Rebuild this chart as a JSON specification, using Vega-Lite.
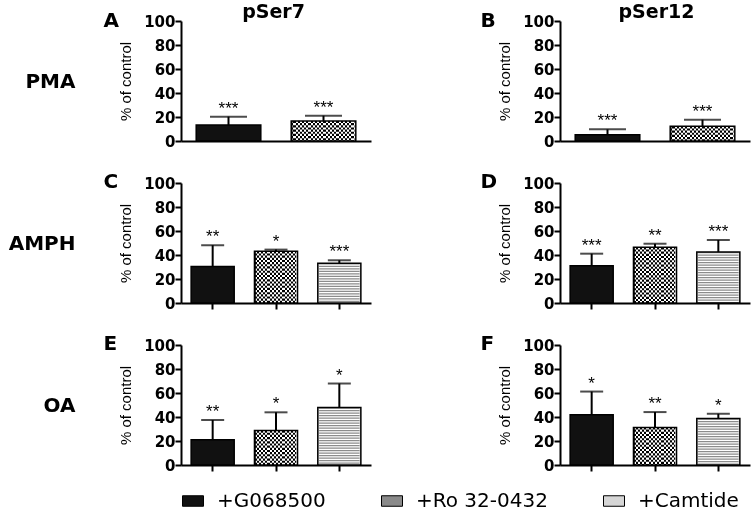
{
  "$schema": "https://vega.github.io/schema/vega-lite/v6.json",
  "autosize": "none",
  "padding": {"left": 181, "top": 21, "right": 574, "bottom": 490},
  "background": "white",
  "data": {"values": [
    {"panel": "A", "treatment": "+G068500", "mean": 13.3, "upper": 20.3, "sig": "***"},
    {"panel": "A", "treatment": "+Ro 32-0432", "mean": 16.7, "upper": 21.1, "sig": "***"},
    {"panel": "B", "treatment": "+G068500", "mean": 5.3, "upper": 9.7, "sig": "***"},
    {"panel": "B", "treatment": "+Ro 32-0432", "mean": 12.3, "upper": 17.8, "sig": "***"},
    {"panel": "C", "treatment": "+G068500", "mean": 30.5, "upper": 48.2, "sig": "**"},
    {"panel": "C", "treatment": "+Ro 32-0432", "mean": 43.1, "upper": 44.5, "sig": "*"},
    {"panel": "C", "treatment": "+Camtide", "mean": 33.1, "upper": 35.6, "sig": "***"},
    {"panel": "D", "treatment": "+G068500", "mean": 31.1, "upper": 41.1, "sig": "***"},
    {"panel": "D", "treatment": "+Ro 32-0432", "mean": 46.4, "upper": 49.4, "sig": "**"},
    {"panel": "D", "treatment": "+Camtide", "mean": 42.5, "upper": 52.5, "sig": "***"},
    {"panel": "E", "treatment": "+G068500", "mean": 21.1, "upper": 37.5, "sig": "**"},
    {"panel": "E", "treatment": "+Ro 32-0432", "mean": 28.7, "upper": 43.9, "sig": "*"},
    {"panel": "E", "treatment": "+Camtide", "mean": 47.9, "upper": 67.9, "sig": "*"},
    {"panel": "F", "treatment": "+G068500", "mean": 41.9, "upper": 61.2, "sig": "*"},
    {"panel": "F", "treatment": "+Ro 32-0432", "mean": 31.3, "upper": 44.1, "sig": "**"},
    {"panel": "F", "treatment": "+Camtide", "mean": 38.8, "upper": 42.7, "sig": "*"}
  ]},
  "columns": 2,
  "spacing": {"row": 42, "column": 189},
  "bounds": "flush",
  "concat": [
    {
      "width": 190, "height": 120,
      "transform": [{"filter": "datum.panel === 'A'"}],
      "resolve": {"axis": {"x": "independent", "y": "independent"}},
      "layer": [
        {"mark": {"type": "bar"},
         "encoding": {
           "x": {"field": "treatment", "type": "nominal", "scale": {"domain": ["+G068500", "+Ro 32-0432"], "paddingInner": 0.32, "paddingOuter": 0.16},
                 "axis": {"title": null, "labels": false, "ticks": false, "grid": false, "domainColor": "#000", "domainWidth": 2}},
           "y": {"field": "mean", "type": "quantitative", "scale": {"domain": [0, 100], "nice": false},
                 "axis": {"title": "% of control", "values": [0, 20, 40, 60, 80, 100], "grid": false, "domainColor": "#000", "domainWidth": 2, "tickColor": "#000", "tickWidth": 2, "tickSize": 6, "labelFont": "DejaVu Sans", "labelFontWeight": "bold", "labelFontSize": 15, "labelColor": "#000", "labelPadding": 0, "titleFont": "Liberation Sans", "titleFontSize": 15, "titleFontWeight": "normal", "titleColor": "#000", "titleX": -56, "titleY": 60, "titleAngle": 270, "titleAlign": "center", "titleBaseline": "middle"}},
           "fill": {"field": "treatment", "type": "nominal", "scale": {"domain": ["+G068500", "+Ro 32-0432", "+Camtide"], "range": ["#111111", "#8a8a8a", "#d6d6d6"]},
                    "legend": {"title": null, "orient": "none", "legendX": 1, "legendY": 469, "direction": "horizontal", "symbolType": "M-1,-0.5H1V0.5H-1Z", "symbolSize": 441, "symbolStrokeColor": "#000", "symbolStrokeWidth": 1, "symbolOpacity": 1, "labelFont": "DejaVu Sans", "labelFontSize": 20, "labelColor": "#000", "labelOffset": 13, "columnPadding": 53, "padding": 0, "labelLimit": 300}}
         }},
        {"transform": [{"filter": "datum.treatment === '+Ro 32-0432'"}],
         "mark": {"type": "bar", "fill": {"gradient": "linear", "x1": 0, "y1": 0, "x2": 1, "y2": 0, "stops": [
           {"offset": 0, "color": "#000"}, {"offset": 0.0333, "color": "#000"}, {"offset": 0.0333, "color": "#fff"}, {"offset": 0.0667, "color": "#fff"},
           {"offset": 0.0667, "color": "#000"}, {"offset": 0.1, "color": "#000"}, {"offset": 0.1, "color": "#fff"}, {"offset": 0.1333, "color": "#fff"},
           {"offset": 0.1333, "color": "#000"}, {"offset": 0.1667, "color": "#000"}, {"offset": 0.1667, "color": "#fff"}, {"offset": 0.2, "color": "#fff"},
           {"offset": 0.2, "color": "#000"}, {"offset": 0.2333, "color": "#000"}, {"offset": 0.2333, "color": "#fff"}, {"offset": 0.2667, "color": "#fff"},
           {"offset": 0.2667, "color": "#000"}, {"offset": 0.3, "color": "#000"}, {"offset": 0.3, "color": "#fff"}, {"offset": 0.3333, "color": "#fff"},
           {"offset": 0.3333, "color": "#000"}, {"offset": 0.3667, "color": "#000"}, {"offset": 0.3667, "color": "#fff"}, {"offset": 0.4, "color": "#fff"},
           {"offset": 0.4, "color": "#000"}, {"offset": 0.4333, "color": "#000"}, {"offset": 0.4333, "color": "#fff"}, {"offset": 0.4667, "color": "#fff"},
           {"offset": 0.4667, "color": "#000"}, {"offset": 0.5, "color": "#000"}, {"offset": 0.5, "color": "#fff"}, {"offset": 0.5333, "color": "#fff"},
           {"offset": 0.5333, "color": "#000"}, {"offset": 0.5667, "color": "#000"}, {"offset": 0.5667, "color": "#fff"}, {"offset": 0.6, "color": "#fff"},
           {"offset": 0.6, "color": "#000"}, {"offset": 0.6333, "color": "#000"}, {"offset": 0.6333, "color": "#fff"}, {"offset": 0.6667, "color": "#fff"},
           {"offset": 0.6667, "color": "#000"}, {"offset": 0.7, "color": "#000"}, {"offset": 0.7, "color": "#fff"}, {"offset": 0.7333, "color": "#fff"},
           {"offset": 0.7333, "color": "#000"}, {"offset": 0.7667, "color": "#000"}, {"offset": 0.7667, "color": "#fff"}, {"offset": 0.8, "color": "#fff"},
           {"offset": 0.8, "color": "#000"}, {"offset": 0.8333, "color": "#000"}, {"offset": 0.8333, "color": "#fff"}, {"offset": 0.8667, "color": "#fff"},
           {"offset": 0.8667, "color": "#000"}, {"offset": 0.9, "color": "#000"}, {"offset": 0.9, "color": "#fff"}, {"offset": 0.9333, "color": "#fff"},
           {"offset": 0.9333, "color": "#000"}, {"offset": 0.9667, "color": "#000"}, {"offset": 0.9667, "color": "#fff"}, {"offset": 1, "color": "#fff"}]}},
         "encoding": {"x": {"field": "treatment", "type": "nominal", "axis": null}, "y": {"field": "mean", "type": "quantitative", "axis": null}}},
        {"transform": [{"filter": "datum.treatment === '+Ro 32-0432'"}],
         "mark": {"type": "rule", "stroke": "#fff", "strokeWidth": 62, "strokeDash": [2.15, 2.15], "blend": "difference"},
         "encoding": {"x": {"field": "treatment", "type": "nominal", "axis": null}, "y": {"field": "mean", "type": "quantitative", "axis": null}, "y2": {"datum": 0}}},
        {"mark": {"type": "bar", "fill": "transparent", "stroke": "#000", "strokeWidth": 1.5},
         "encoding": {"x": {"field": "treatment", "type": "nominal", "axis": null}, "y": {"field": "mean", "type": "quantitative", "axis": null}}},
        {"mark": {"type": "rule", "color": "#000", "strokeWidth": 2},
         "encoding": {"x": {"field": "treatment", "type": "nominal", "axis": null},
                      "y": {"field": "mean", "type": "quantitative", "axis": {"orient": "left", "title": "A", "labels": false, "ticks": false, "domain": false, "grid": false, "titleX": -78, "titleY": 5, "titleAngle": 0, "titleAlign": "left", "titleBaseline": "alphabetic", "titleFont": "DejaVu Sans", "titleFontSize": 20, "titleFontWeight": "bold", "titleColor": "#000"}},
                      "y2": {"field": "upper"}}},
        {"mark": {"type": "tick", "color": "#000", "size": 37, "thickness": 2},
         "encoding": {"x": {"field": "treatment", "type": "nominal", "axis": null},
                      "y": {"field": "upper", "type": "quantitative", "axis": {"orient": "left", "title": "PMA", "labels": false, "ticks": false, "domain": false, "grid": false, "titleX": -106, "titleY": 66, "titleAngle": 0, "titleAlign": "right", "titleBaseline": "alphabetic", "titleFont": "DejaVu Sans", "titleFontSize": 20, "titleFontWeight": "bold", "titleColor": "#000"}}}},
        {"mark": {"type": "text", "font": "Liberation Sans", "fontSize": 17, "dy": -3, "baseline": "alphabetic", "color": "#000"},
         "encoding": {"x": {"field": "treatment", "type": "nominal", "axis": {"orient": "top", "title": "pSer7", "labels": false, "ticks": false, "domain": false, "grid": false, "titleX": 92, "titleY": -4, "titleAlign": "center", "titleBaseline": "alphabetic", "titleFont": "DejaVu Sans", "titleFontSize": 19, "titleFontWeight": "bold", "titleColor": "#000"}},
                      "y": {"field": "upper", "type": "quantitative", "axis": null}, "text": {"field": "sig"}}}
      ]
    },
    {
      "width": 190, "height": 120,
      "transform": [{"filter": "datum.panel === 'B'"}],
      "resolve": {"axis": {"x": "independent", "y": "independent"}},
      "layer": [
        {"mark": {"type": "bar"},
         "encoding": {
           "x": {"field": "treatment", "type": "nominal", "scale": {"domain": ["+G068500", "+Ro 32-0432"], "paddingInner": 0.32, "paddingOuter": 0.16},
                 "axis": {"title": null, "labels": false, "ticks": false, "grid": false, "domainColor": "#000", "domainWidth": 2}},
           "y": {"field": "mean", "type": "quantitative", "scale": {"domain": [0, 100], "nice": false},
                 "axis": {"title": "% of control", "values": [0, 20, 40, 60, 80, 100], "grid": false, "domainColor": "#000", "domainWidth": 2, "tickColor": "#000", "tickWidth": 2, "tickSize": 6, "labelFont": "DejaVu Sans", "labelFontWeight": "bold", "labelFontSize": 15, "labelColor": "#000", "labelPadding": 0, "titleFont": "Liberation Sans", "titleFontSize": 15, "titleFontWeight": "normal", "titleColor": "#000", "titleX": -56, "titleY": 60, "titleAngle": 270, "titleAlign": "center", "titleBaseline": "middle"}},
           "fill": {"field": "treatment", "type": "nominal", "scale": {"domain": ["+G068500", "+Ro 32-0432", "+Camtide"], "range": ["#111111", "#8a8a8a", "#d6d6d6"]},
                    "legend": {"title": null, "orient": "none", "legendX": 1, "legendY": 469, "direction": "horizontal", "symbolType": "M-1,-0.5H1V0.5H-1Z", "symbolSize": 441, "symbolStrokeColor": "#000", "symbolStrokeWidth": 1, "symbolOpacity": 1, "labelFont": "DejaVu Sans", "labelFontSize": 20, "labelColor": "#000", "labelOffset": 13, "columnPadding": 53, "padding": 0, "labelLimit": 300}}
         }},
        {"transform": [{"filter": "datum.treatment === '+Ro 32-0432'"}],
         "mark": {"type": "bar", "fill": {"gradient": "linear", "x1": 0, "y1": 0, "x2": 1, "y2": 0, "stops": [
           {"offset": 0, "color": "#000"}, {"offset": 0.0333, "color": "#000"}, {"offset": 0.0333, "color": "#fff"}, {"offset": 0.0667, "color": "#fff"},
           {"offset": 0.0667, "color": "#000"}, {"offset": 0.1, "color": "#000"}, {"offset": 0.1, "color": "#fff"}, {"offset": 0.1333, "color": "#fff"},
           {"offset": 0.1333, "color": "#000"}, {"offset": 0.1667, "color": "#000"}, {"offset": 0.1667, "color": "#fff"}, {"offset": 0.2, "color": "#fff"},
           {"offset": 0.2, "color": "#000"}, {"offset": 0.2333, "color": "#000"}, {"offset": 0.2333, "color": "#fff"}, {"offset": 0.2667, "color": "#fff"},
           {"offset": 0.2667, "color": "#000"}, {"offset": 0.3, "color": "#000"}, {"offset": 0.3, "color": "#fff"}, {"offset": 0.3333, "color": "#fff"},
           {"offset": 0.3333, "color": "#000"}, {"offset": 0.3667, "color": "#000"}, {"offset": 0.3667, "color": "#fff"}, {"offset": 0.4, "color": "#fff"},
           {"offset": 0.4, "color": "#000"}, {"offset": 0.4333, "color": "#000"}, {"offset": 0.4333, "color": "#fff"}, {"offset": 0.4667, "color": "#fff"},
           {"offset": 0.4667, "color": "#000"}, {"offset": 0.5, "color": "#000"}, {"offset": 0.5, "color": "#fff"}, {"offset": 0.5333, "color": "#fff"},
           {"offset": 0.5333, "color": "#000"}, {"offset": 0.5667, "color": "#000"}, {"offset": 0.5667, "color": "#fff"}, {"offset": 0.6, "color": "#fff"},
           {"offset": 0.6, "color": "#000"}, {"offset": 0.6333, "color": "#000"}, {"offset": 0.6333, "color": "#fff"}, {"offset": 0.6667, "color": "#fff"},
           {"offset": 0.6667, "color": "#000"}, {"offset": 0.7, "color": "#000"}, {"offset": 0.7, "color": "#fff"}, {"offset": 0.7333, "color": "#fff"},
           {"offset": 0.7333, "color": "#000"}, {"offset": 0.7667, "color": "#000"}, {"offset": 0.7667, "color": "#fff"}, {"offset": 0.8, "color": "#fff"},
           {"offset": 0.8, "color": "#000"}, {"offset": 0.8333, "color": "#000"}, {"offset": 0.8333, "color": "#fff"}, {"offset": 0.8667, "color": "#fff"},
           {"offset": 0.8667, "color": "#000"}, {"offset": 0.9, "color": "#000"}, {"offset": 0.9, "color": "#fff"}, {"offset": 0.9333, "color": "#fff"},
           {"offset": 0.9333, "color": "#000"}, {"offset": 0.9667, "color": "#000"}, {"offset": 0.9667, "color": "#fff"}, {"offset": 1, "color": "#fff"}]}},
         "encoding": {"x": {"field": "treatment", "type": "nominal", "axis": null}, "y": {"field": "mean", "type": "quantitative", "axis": null}}},
        {"transform": [{"filter": "datum.treatment === '+Ro 32-0432'"}],
         "mark": {"type": "rule", "stroke": "#fff", "strokeWidth": 62, "strokeDash": [2.15, 2.15], "blend": "difference"},
         "encoding": {"x": {"field": "treatment", "type": "nominal", "axis": null}, "y": {"field": "mean", "type": "quantitative", "axis": null}, "y2": {"datum": 0}}},
        {"mark": {"type": "bar", "fill": "transparent", "stroke": "#000", "strokeWidth": 1.5},
         "encoding": {"x": {"field": "treatment", "type": "nominal", "axis": null}, "y": {"field": "mean", "type": "quantitative", "axis": null}}},
        {"mark": {"type": "rule", "color": "#000", "strokeWidth": 2},
         "encoding": {"x": {"field": "treatment", "type": "nominal", "axis": null},
                      "y": {"field": "mean", "type": "quantitative", "axis": {"orient": "left", "title": "B", "labels": false, "ticks": false, "domain": false, "grid": false, "titleX": -80, "titleY": 5, "titleAngle": 0, "titleAlign": "left", "titleBaseline": "alphabetic", "titleFont": "DejaVu Sans", "titleFontSize": 20, "titleFontWeight": "bold", "titleColor": "#000"}},
                      "y2": {"field": "upper"}}},
        {"mark": {"type": "tick", "color": "#000", "size": 37, "thickness": 2},
         "encoding": {"x": {"field": "treatment", "type": "nominal", "axis": null},
                      "y": {"field": "upper", "type": "quantitative", "axis": null}}},
        {"mark": {"type": "text", "font": "Liberation Sans", "fontSize": 17, "dy": -3, "baseline": "alphabetic", "color": "#000"},
         "encoding": {"x": {"field": "treatment", "type": "nominal", "axis": {"orient": "top", "title": "pSer12", "labels": false, "ticks": false, "domain": false, "grid": false, "titleX": 96, "titleY": -4, "titleAlign": "center", "titleBaseline": "alphabetic", "titleFont": "DejaVu Sans", "titleFontSize": 19, "titleFontWeight": "bold", "titleColor": "#000"}},
                      "y": {"field": "upper", "type": "quantitative", "axis": null}, "text": {"field": "sig"}}}
      ]
    },
    {
      "width": 190, "height": 120,
      "transform": [{"filter": "datum.panel === 'C'"}],
      "resolve": {"axis": {"x": "independent", "y": "independent"}},
      "layer": [
        {"mark": {"type": "bar"},
         "encoding": {
           "x": {"field": "treatment", "type": "nominal", "scale": {"domain": ["+G068500", "+Ro 32-0432", "+Camtide"], "paddingInner": 0.32, "paddingOuter": 0.16},
                 "axis": {"title": null, "labels": false, "ticks": true, "tickSize": 6, "tickWidth": 2, "tickColor": "#000", "grid": false, "domainColor": "#000", "domainWidth": 2}},
           "y": {"field": "mean", "type": "quantitative", "scale": {"domain": [0, 100], "nice": false},
                 "axis": {"title": "% of control", "values": [0, 20, 40, 60, 80, 100], "grid": false, "domainColor": "#000", "domainWidth": 2, "tickColor": "#000", "tickWidth": 2, "tickSize": 6, "labelFont": "DejaVu Sans", "labelFontWeight": "bold", "labelFontSize": 15, "labelColor": "#000", "labelPadding": 0, "titleFont": "Liberation Sans", "titleFontSize": 15, "titleFontWeight": "normal", "titleColor": "#000", "titleX": -56, "titleY": 60, "titleAngle": 270, "titleAlign": "center", "titleBaseline": "middle"}},
           "fill": {"field": "treatment", "type": "nominal", "scale": {"domain": ["+G068500", "+Ro 32-0432", "+Camtide"], "range": ["#111111", "#8a8a8a", "#d6d6d6"]},
                    "legend": {"title": null, "orient": "none", "legendX": 1, "legendY": 469, "direction": "horizontal", "symbolType": "M-1,-0.5H1V0.5H-1Z", "symbolSize": 441, "symbolStrokeColor": "#000", "symbolStrokeWidth": 1, "symbolOpacity": 1, "labelFont": "DejaVu Sans", "labelFontSize": 20, "labelColor": "#000", "labelOffset": 13, "columnPadding": 53, "padding": 0, "labelLimit": 300}}
         }},
        {"transform": [{"filter": "datum.treatment === '+Ro 32-0432'"}],
         "mark": {"type": "bar", "fill": {"gradient": "linear", "x1": 0, "y1": 0, "x2": 1, "y2": 0, "stops": [
           {"offset": 0, "color": "#000"}, {"offset": 0.05, "color": "#000"}, {"offset": 0.05, "color": "#fff"}, {"offset": 0.1, "color": "#fff"},
           {"offset": 0.1, "color": "#000"}, {"offset": 0.15, "color": "#000"}, {"offset": 0.15, "color": "#fff"}, {"offset": 0.2, "color": "#fff"},
           {"offset": 0.2, "color": "#000"}, {"offset": 0.25, "color": "#000"}, {"offset": 0.25, "color": "#fff"}, {"offset": 0.3, "color": "#fff"},
           {"offset": 0.3, "color": "#000"}, {"offset": 0.35, "color": "#000"}, {"offset": 0.35, "color": "#fff"}, {"offset": 0.4, "color": "#fff"},
           {"offset": 0.4, "color": "#000"}, {"offset": 0.45, "color": "#000"}, {"offset": 0.45, "color": "#fff"}, {"offset": 0.5, "color": "#fff"},
           {"offset": 0.5, "color": "#000"}, {"offset": 0.55, "color": "#000"}, {"offset": 0.55, "color": "#fff"}, {"offset": 0.6, "color": "#fff"},
           {"offset": 0.6, "color": "#000"}, {"offset": 0.65, "color": "#000"}, {"offset": 0.65, "color": "#fff"}, {"offset": 0.7, "color": "#fff"},
           {"offset": 0.7, "color": "#000"}, {"offset": 0.75, "color": "#000"}, {"offset": 0.75, "color": "#fff"}, {"offset": 0.8, "color": "#fff"},
           {"offset": 0.8, "color": "#000"}, {"offset": 0.85, "color": "#000"}, {"offset": 0.85, "color": "#fff"}, {"offset": 0.9, "color": "#fff"},
           {"offset": 0.9, "color": "#000"}, {"offset": 0.95, "color": "#000"}, {"offset": 0.95, "color": "#fff"}, {"offset": 1, "color": "#fff"}]}},
         "encoding": {"x": {"field": "treatment", "type": "nominal", "axis": null}, "y": {"field": "mean", "type": "quantitative", "axis": null}}},
        {"transform": [{"filter": "datum.treatment === '+Ro 32-0432'"}],
         "mark": {"type": "rule", "stroke": "#fff", "strokeWidth": 40.5, "strokeDash": [2.15, 2.15], "blend": "difference"},
         "encoding": {"x": {"field": "treatment", "type": "nominal", "axis": null}, "y": {"field": "mean", "type": "quantitative", "axis": null}, "y2": {"datum": 0}}},
        {"transform": [{"filter": "datum.treatment === '+Camtide'"}],
         "mark": {"type": "rule", "stroke": "#fff", "strokeWidth": 40.5},
         "encoding": {"x": {"field": "treatment", "type": "nominal", "axis": null}, "y": {"field": "mean", "type": "quantitative", "axis": null}, "y2": {"datum": 0}}},
        {"transform": [{"filter": "datum.treatment === '+Camtide'"}],
         "mark": {"type": "rule", "stroke": "#8c8c8c", "strokeWidth": 40.5, "strokeDash": [1.2, 1.3]},
         "encoding": {"x": {"field": "treatment", "type": "nominal", "axis": null}, "y": {"field": "mean", "type": "quantitative", "axis": null}, "y2": {"datum": 0}}},
        {"mark": {"type": "bar", "fill": "transparent", "stroke": "#000", "strokeWidth": 1.5},
         "encoding": {"x": {"field": "treatment", "type": "nominal", "axis": null}, "y": {"field": "mean", "type": "quantitative", "axis": null}}},
        {"mark": {"type": "rule", "color": "#000", "strokeWidth": 2},
         "encoding": {"x": {"field": "treatment", "type": "nominal", "axis": null},
                      "y": {"field": "mean", "type": "quantitative", "axis": {"orient": "left", "title": "C", "labels": false, "ticks": false, "domain": false, "grid": false, "titleX": -78, "titleY": 4, "titleAngle": 0, "titleAlign": "left", "titleBaseline": "alphabetic", "titleFont": "DejaVu Sans", "titleFontSize": 20, "titleFontWeight": "bold", "titleColor": "#000"}},
                      "y2": {"field": "upper"}}},
        {"mark": {"type": "tick", "color": "#000", "size": 23, "thickness": 2},
         "encoding": {"x": {"field": "treatment", "type": "nominal", "axis": null},
                      "y": {"field": "upper", "type": "quantitative", "axis": {"orient": "left", "title": "AMPH", "labels": false, "ticks": false, "domain": false, "grid": false, "titleX": -106, "titleY": 66, "titleAngle": 0, "titleAlign": "right", "titleBaseline": "alphabetic", "titleFont": "DejaVu Sans", "titleFontSize": 20, "titleFontWeight": "bold", "titleColor": "#000"}}}},
        {"mark": {"type": "text", "font": "Liberation Sans", "fontSize": 17, "dy": -3, "baseline": "alphabetic", "color": "#000"},
         "encoding": {"x": {"field": "treatment", "type": "nominal", "axis": null},
                      "y": {"field": "upper", "type": "quantitative", "axis": null}, "text": {"field": "sig"}}}
      ]
    },
    {
      "width": 190, "height": 120,
      "transform": [{"filter": "datum.panel === 'D'"}],
      "resolve": {"axis": {"x": "independent", "y": "independent"}},
      "layer": [
        {"mark": {"type": "bar"},
         "encoding": {
           "x": {"field": "treatment", "type": "nominal", "scale": {"domain": ["+G068500", "+Ro 32-0432", "+Camtide"], "paddingInner": 0.32, "paddingOuter": 0.16},
                 "axis": {"title": null, "labels": false, "ticks": true, "tickSize": 6, "tickWidth": 2, "tickColor": "#000", "grid": false, "domainColor": "#000", "domainWidth": 2}},
           "y": {"field": "mean", "type": "quantitative", "scale": {"domain": [0, 100], "nice": false},
                 "axis": {"title": "% of control", "values": [0, 20, 40, 60, 80, 100], "grid": false, "domainColor": "#000", "domainWidth": 2, "tickColor": "#000", "tickWidth": 2, "tickSize": 6, "labelFont": "DejaVu Sans", "labelFontWeight": "bold", "labelFontSize": 15, "labelColor": "#000", "labelPadding": 0, "titleFont": "Liberation Sans", "titleFontSize": 15, "titleFontWeight": "normal", "titleColor": "#000", "titleX": -56, "titleY": 60, "titleAngle": 270, "titleAlign": "center", "titleBaseline": "middle"}},
           "fill": {"field": "treatment", "type": "nominal", "scale": {"domain": ["+G068500", "+Ro 32-0432", "+Camtide"], "range": ["#111111", "#8a8a8a", "#d6d6d6"]},
                    "legend": {"title": null, "orient": "none", "legendX": 1, "legendY": 469, "direction": "horizontal", "symbolType": "M-1,-0.5H1V0.5H-1Z", "symbolSize": 441, "symbolStrokeColor": "#000", "symbolStrokeWidth": 1, "symbolOpacity": 1, "labelFont": "DejaVu Sans", "labelFontSize": 20, "labelColor": "#000", "labelOffset": 13, "columnPadding": 53, "padding": 0, "labelLimit": 300}}
         }},
        {"transform": [{"filter": "datum.treatment === '+Ro 32-0432'"}],
         "mark": {"type": "bar", "fill": {"gradient": "linear", "x1": 0, "y1": 0, "x2": 1, "y2": 0, "stops": [
           {"offset": 0, "color": "#000"}, {"offset": 0.05, "color": "#000"}, {"offset": 0.05, "color": "#fff"}, {"offset": 0.1, "color": "#fff"},
           {"offset": 0.1, "color": "#000"}, {"offset": 0.15, "color": "#000"}, {"offset": 0.15, "color": "#fff"}, {"offset": 0.2, "color": "#fff"},
           {"offset": 0.2, "color": "#000"}, {"offset": 0.25, "color": "#000"}, {"offset": 0.25, "color": "#fff"}, {"offset": 0.3, "color": "#fff"},
           {"offset": 0.3, "color": "#000"}, {"offset": 0.35, "color": "#000"}, {"offset": 0.35, "color": "#fff"}, {"offset": 0.4, "color": "#fff"},
           {"offset": 0.4, "color": "#000"}, {"offset": 0.45, "color": "#000"}, {"offset": 0.45, "color": "#fff"}, {"offset": 0.5, "color": "#fff"},
           {"offset": 0.5, "color": "#000"}, {"offset": 0.55, "color": "#000"}, {"offset": 0.55, "color": "#fff"}, {"offset": 0.6, "color": "#fff"},
           {"offset": 0.6, "color": "#000"}, {"offset": 0.65, "color": "#000"}, {"offset": 0.65, "color": "#fff"}, {"offset": 0.7, "color": "#fff"},
           {"offset": 0.7, "color": "#000"}, {"offset": 0.75, "color": "#000"}, {"offset": 0.75, "color": "#fff"}, {"offset": 0.8, "color": "#fff"},
           {"offset": 0.8, "color": "#000"}, {"offset": 0.85, "color": "#000"}, {"offset": 0.85, "color": "#fff"}, {"offset": 0.9, "color": "#fff"},
           {"offset": 0.9, "color": "#000"}, {"offset": 0.95, "color": "#000"}, {"offset": 0.95, "color": "#fff"}, {"offset": 1, "color": "#fff"}]}},
         "encoding": {"x": {"field": "treatment", "type": "nominal", "axis": null}, "y": {"field": "mean", "type": "quantitative", "axis": null}}},
        {"transform": [{"filter": "datum.treatment === '+Ro 32-0432'"}],
         "mark": {"type": "rule", "stroke": "#fff", "strokeWidth": 40.5, "strokeDash": [2.15, 2.15], "blend": "difference"},
         "encoding": {"x": {"field": "treatment", "type": "nominal", "axis": null}, "y": {"field": "mean", "type": "quantitative", "axis": null}, "y2": {"datum": 0}}},
        {"transform": [{"filter": "datum.treatment === '+Camtide'"}],
         "mark": {"type": "rule", "stroke": "#fff", "strokeWidth": 40.5},
         "encoding": {"x": {"field": "treatment", "type": "nominal", "axis": null}, "y": {"field": "mean", "type": "quantitative", "axis": null}, "y2": {"datum": 0}}},
        {"transform": [{"filter": "datum.treatment === '+Camtide'"}],
         "mark": {"type": "rule", "stroke": "#8c8c8c", "strokeWidth": 40.5, "strokeDash": [1.2, 1.3]},
         "encoding": {"x": {"field": "treatment", "type": "nominal", "axis": null}, "y": {"field": "mean", "type": "quantitative", "axis": null}, "y2": {"datum": 0}}},
        {"mark": {"type": "bar", "fill": "transparent", "stroke": "#000", "strokeWidth": 1.5},
         "encoding": {"x": {"field": "treatment", "type": "nominal", "axis": null}, "y": {"field": "mean", "type": "quantitative", "axis": null}}},
        {"mark": {"type": "rule", "color": "#000", "strokeWidth": 2},
         "encoding": {"x": {"field": "treatment", "type": "nominal", "axis": null},
                      "y": {"field": "mean", "type": "quantitative", "axis": {"orient": "left", "title": "D", "labels": false, "ticks": false, "domain": false, "grid": false, "titleX": -80, "titleY": 4, "titleAngle": 0, "titleAlign": "left", "titleBaseline": "alphabetic", "titleFont": "DejaVu Sans", "titleFontSize": 20, "titleFontWeight": "bold", "titleColor": "#000"}},
                      "y2": {"field": "upper"}}},
        {"mark": {"type": "tick", "color": "#000", "size": 23, "thickness": 2},
         "encoding": {"x": {"field": "treatment", "type": "nominal", "axis": null},
                      "y": {"field": "upper", "type": "quantitative", "axis": null}}},
        {"mark": {"type": "text", "font": "Liberation Sans", "fontSize": 17, "dy": -3, "baseline": "alphabetic", "color": "#000"},
         "encoding": {"x": {"field": "treatment", "type": "nominal", "axis": null},
                      "y": {"field": "upper", "type": "quantitative", "axis": null}, "text": {"field": "sig"}}}
      ]
    },
    {
      "width": 190, "height": 120,
      "transform": [{"filter": "datum.panel === 'E'"}],
      "resolve": {"axis": {"x": "independent", "y": "independent"}},
      "layer": [
        {"mark": {"type": "bar"},
         "encoding": {
           "x": {"field": "treatment", "type": "nominal", "scale": {"domain": ["+G068500", "+Ro 32-0432", "+Camtide"], "paddingInner": 0.32, "paddingOuter": 0.16},
                 "axis": {"title": null, "labels": false, "ticks": true, "tickSize": 6, "tickWidth": 2, "tickColor": "#000", "grid": false, "domainColor": "#000", "domainWidth": 2}},
           "y": {"field": "mean", "type": "quantitative", "scale": {"domain": [0, 100], "nice": false},
                 "axis": {"title": "% of control", "values": [0, 20, 40, 60, 80, 100], "grid": false, "domainColor": "#000", "domainWidth": 2, "tickColor": "#000", "tickWidth": 2, "tickSize": 6, "labelFont": "DejaVu Sans", "labelFontWeight": "bold", "labelFontSize": 15, "labelColor": "#000", "labelPadding": 0, "titleFont": "Liberation Sans", "titleFontSize": 15, "titleFontWeight": "normal", "titleColor": "#000", "titleX": -56, "titleY": 60, "titleAngle": 270, "titleAlign": "center", "titleBaseline": "middle"}},
           "fill": {"field": "treatment", "type": "nominal", "scale": {"domain": ["+G068500", "+Ro 32-0432", "+Camtide"], "range": ["#111111", "#8a8a8a", "#d6d6d6"]},
                    "legend": {"title": null, "orient": "none", "legendX": 1, "legendY": 469, "direction": "horizontal", "symbolType": "M-1,-0.5H1V0.5H-1Z", "symbolSize": 441, "symbolStrokeColor": "#000", "symbolStrokeWidth": 1, "symbolOpacity": 1, "labelFont": "DejaVu Sans", "labelFontSize": 20, "labelColor": "#000", "labelOffset": 13, "columnPadding": 53, "padding": 0, "labelLimit": 300}}
         }},
        {"transform": [{"filter": "datum.treatment === '+Ro 32-0432'"}],
         "mark": {"type": "bar", "fill": {"gradient": "linear", "x1": 0, "y1": 0, "x2": 1, "y2": 0, "stops": [
           {"offset": 0, "color": "#000"}, {"offset": 0.05, "color": "#000"}, {"offset": 0.05, "color": "#fff"}, {"offset": 0.1, "color": "#fff"},
           {"offset": 0.1, "color": "#000"}, {"offset": 0.15, "color": "#000"}, {"offset": 0.15, "color": "#fff"}, {"offset": 0.2, "color": "#fff"},
           {"offset": 0.2, "color": "#000"}, {"offset": 0.25, "color": "#000"}, {"offset": 0.25, "color": "#fff"}, {"offset": 0.3, "color": "#fff"},
           {"offset": 0.3, "color": "#000"}, {"offset": 0.35, "color": "#000"}, {"offset": 0.35, "color": "#fff"}, {"offset": 0.4, "color": "#fff"},
           {"offset": 0.4, "color": "#000"}, {"offset": 0.45, "color": "#000"}, {"offset": 0.45, "color": "#fff"}, {"offset": 0.5, "color": "#fff"},
           {"offset": 0.5, "color": "#000"}, {"offset": 0.55, "color": "#000"}, {"offset": 0.55, "color": "#fff"}, {"offset": 0.6, "color": "#fff"},
           {"offset": 0.6, "color": "#000"}, {"offset": 0.65, "color": "#000"}, {"offset": 0.65, "color": "#fff"}, {"offset": 0.7, "color": "#fff"},
           {"offset": 0.7, "color": "#000"}, {"offset": 0.75, "color": "#000"}, {"offset": 0.75, "color": "#fff"}, {"offset": 0.8, "color": "#fff"},
           {"offset": 0.8, "color": "#000"}, {"offset": 0.85, "color": "#000"}, {"offset": 0.85, "color": "#fff"}, {"offset": 0.9, "color": "#fff"},
           {"offset": 0.9, "color": "#000"}, {"offset": 0.95, "color": "#000"}, {"offset": 0.95, "color": "#fff"}, {"offset": 1, "color": "#fff"}]}},
         "encoding": {"x": {"field": "treatment", "type": "nominal", "axis": null}, "y": {"field": "mean", "type": "quantitative", "axis": null}}},
        {"transform": [{"filter": "datum.treatment === '+Ro 32-0432'"}],
         "mark": {"type": "rule", "stroke": "#fff", "strokeWidth": 40.5, "strokeDash": [2.15, 2.15], "blend": "difference"},
         "encoding": {"x": {"field": "treatment", "type": "nominal", "axis": null}, "y": {"field": "mean", "type": "quantitative", "axis": null}, "y2": {"datum": 0}}},
        {"transform": [{"filter": "datum.treatment === '+Camtide'"}],
         "mark": {"type": "rule", "stroke": "#fff", "strokeWidth": 40.5},
         "encoding": {"x": {"field": "treatment", "type": "nominal", "axis": null}, "y": {"field": "mean", "type": "quantitative", "axis": null}, "y2": {"datum": 0}}},
        {"transform": [{"filter": "datum.treatment === '+Camtide'"}],
         "mark": {"type": "rule", "stroke": "#8c8c8c", "strokeWidth": 40.5, "strokeDash": [1.2, 1.3]},
         "encoding": {"x": {"field": "treatment", "type": "nominal", "axis": null}, "y": {"field": "mean", "type": "quantitative", "axis": null}, "y2": {"datum": 0}}},
        {"mark": {"type": "bar", "fill": "transparent", "stroke": "#000", "strokeWidth": 1.5},
         "encoding": {"x": {"field": "treatment", "type": "nominal", "axis": null}, "y": {"field": "mean", "type": "quantitative", "axis": null}}},
        {"mark": {"type": "rule", "color": "#000", "strokeWidth": 2},
         "encoding": {"x": {"field": "treatment", "type": "nominal", "axis": null},
                      "y": {"field": "mean", "type": "quantitative", "axis": {"orient": "left", "title": "E", "labels": false, "ticks": false, "domain": false, "grid": false, "titleX": -78, "titleY": 4, "titleAngle": 0, "titleAlign": "left", "titleBaseline": "alphabetic", "titleFont": "DejaVu Sans", "titleFontSize": 20, "titleFontWeight": "bold", "titleColor": "#000"}},
                      "y2": {"field": "upper"}}},
        {"mark": {"type": "tick", "color": "#000", "size": 23, "thickness": 2},
         "encoding": {"x": {"field": "treatment", "type": "nominal", "axis": null},
                      "y": {"field": "upper", "type": "quantitative", "axis": {"orient": "left", "title": "OA", "labels": false, "ticks": false, "domain": false, "grid": false, "titleX": -106, "titleY": 66, "titleAngle": 0, "titleAlign": "right", "titleBaseline": "alphabetic", "titleFont": "DejaVu Sans", "titleFontSize": 20, "titleFontWeight": "bold", "titleColor": "#000"}}}},
        {"mark": {"type": "text", "font": "Liberation Sans", "fontSize": 17, "dy": -3, "baseline": "alphabetic", "color": "#000"},
         "encoding": {"x": {"field": "treatment", "type": "nominal", "axis": null},
                      "y": {"field": "upper", "type": "quantitative", "axis": null}, "text": {"field": "sig"}}}
      ]
    },
    {
      "width": 190, "height": 120,
      "transform": [{"filter": "datum.panel === 'F'"}],
      "resolve": {"axis": {"x": "independent", "y": "independent"}},
      "layer": [
        {"mark": {"type": "bar"},
         "encoding": {
           "x": {"field": "treatment", "type": "nominal", "scale": {"domain": ["+G068500", "+Ro 32-0432", "+Camtide"], "paddingInner": 0.32, "paddingOuter": 0.16},
                 "axis": {"title": null, "labels": false, "ticks": true, "tickSize": 6, "tickWidth": 2, "tickColor": "#000", "grid": false, "domainColor": "#000", "domainWidth": 2}},
           "y": {"field": "mean", "type": "quantitative", "scale": {"domain": [0, 100], "nice": false},
                 "axis": {"title": "% of control", "values": [0, 20, 40, 60, 80, 100], "grid": false, "domainColor": "#000", "domainWidth": 2, "tickColor": "#000", "tickWidth": 2, "tickSize": 6, "labelFont": "DejaVu Sans", "labelFontWeight": "bold", "labelFontSize": 15, "labelColor": "#000", "labelPadding": 0, "titleFont": "Liberation Sans", "titleFontSize": 15, "titleFontWeight": "normal", "titleColor": "#000", "titleX": -56, "titleY": 60, "titleAngle": 270, "titleAlign": "center", "titleBaseline": "middle"}},
           "fill": {"field": "treatment", "type": "nominal", "scale": {"domain": ["+G068500", "+Ro 32-0432", "+Camtide"], "range": ["#111111", "#8a8a8a", "#d6d6d6"]},
                    "legend": {"title": null, "orient": "none", "legendX": 1, "legendY": 469, "direction": "horizontal", "symbolType": "M-1,-0.5H1V0.5H-1Z", "symbolSize": 441, "symbolStrokeColor": "#000", "symbolStrokeWidth": 1, "symbolOpacity": 1, "labelFont": "DejaVu Sans", "labelFontSize": 20, "labelColor": "#000", "labelOffset": 13, "columnPadding": 53, "padding": 0, "labelLimit": 300}}
         }},
        {"transform": [{"filter": "datum.treatment === '+Ro 32-0432'"}],
         "mark": {"type": "bar", "fill": {"gradient": "linear", "x1": 0, "y1": 0, "x2": 1, "y2": 0, "stops": [
           {"offset": 0, "color": "#000"}, {"offset": 0.05, "color": "#000"}, {"offset": 0.05, "color": "#fff"}, {"offset": 0.1, "color": "#fff"},
           {"offset": 0.1, "color": "#000"}, {"offset": 0.15, "color": "#000"}, {"offset": 0.15, "color": "#fff"}, {"offset": 0.2, "color": "#fff"},
           {"offset": 0.2, "color": "#000"}, {"offset": 0.25, "color": "#000"}, {"offset": 0.25, "color": "#fff"}, {"offset": 0.3, "color": "#fff"},
           {"offset": 0.3, "color": "#000"}, {"offset": 0.35, "color": "#000"}, {"offset": 0.35, "color": "#fff"}, {"offset": 0.4, "color": "#fff"},
           {"offset": 0.4, "color": "#000"}, {"offset": 0.45, "color": "#000"}, {"offset": 0.45, "color": "#fff"}, {"offset": 0.5, "color": "#fff"},
           {"offset": 0.5, "color": "#000"}, {"offset": 0.55, "color": "#000"}, {"offset": 0.55, "color": "#fff"}, {"offset": 0.6, "color": "#fff"},
           {"offset": 0.6, "color": "#000"}, {"offset": 0.65, "color": "#000"}, {"offset": 0.65, "color": "#fff"}, {"offset": 0.7, "color": "#fff"},
           {"offset": 0.7, "color": "#000"}, {"offset": 0.75, "color": "#000"}, {"offset": 0.75, "color": "#fff"}, {"offset": 0.8, "color": "#fff"},
           {"offset": 0.8, "color": "#000"}, {"offset": 0.85, "color": "#000"}, {"offset": 0.85, "color": "#fff"}, {"offset": 0.9, "color": "#fff"},
           {"offset": 0.9, "color": "#000"}, {"offset": 0.95, "color": "#000"}, {"offset": 0.95, "color": "#fff"}, {"offset": 1, "color": "#fff"}]}},
         "encoding": {"x": {"field": "treatment", "type": "nominal", "axis": null}, "y": {"field": "mean", "type": "quantitative", "axis": null}}},
        {"transform": [{"filter": "datum.treatment === '+Ro 32-0432'"}],
         "mark": {"type": "rule", "stroke": "#fff", "strokeWidth": 40.5, "strokeDash": [2.15, 2.15], "blend": "difference"},
         "encoding": {"x": {"field": "treatment", "type": "nominal", "axis": null}, "y": {"field": "mean", "type": "quantitative", "axis": null}, "y2": {"datum": 0}}},
        {"transform": [{"filter": "datum.treatment === '+Camtide'"}],
         "mark": {"type": "rule", "stroke": "#fff", "strokeWidth": 40.5},
         "encoding": {"x": {"field": "treatment", "type": "nominal", "axis": null}, "y": {"field": "mean", "type": "quantitative", "axis": null}, "y2": {"datum": 0}}},
        {"transform": [{"filter": "datum.treatment === '+Camtide'"}],
         "mark": {"type": "rule", "stroke": "#8c8c8c", "strokeWidth": 40.5, "strokeDash": [1.2, 1.3]},
         "encoding": {"x": {"field": "treatment", "type": "nominal", "axis": null}, "y": {"field": "mean", "type": "quantitative", "axis": null}, "y2": {"datum": 0}}},
        {"mark": {"type": "bar", "fill": "transparent", "stroke": "#000", "strokeWidth": 1.5},
         "encoding": {"x": {"field": "treatment", "type": "nominal", "axis": null}, "y": {"field": "mean", "type": "quantitative", "axis": null}}},
        {"mark": {"type": "rule", "color": "#000", "strokeWidth": 2},
         "encoding": {"x": {"field": "treatment", "type": "nominal", "axis": null},
                      "y": {"field": "mean", "type": "quantitative", "axis": {"orient": "left", "title": "F", "labels": false, "ticks": false, "domain": false, "grid": false, "titleX": -80, "titleY": 4, "titleAngle": 0, "titleAlign": "left", "titleBaseline": "alphabetic", "titleFont": "DejaVu Sans", "titleFontSize": 20, "titleFontWeight": "bold", "titleColor": "#000"}},
                      "y2": {"field": "upper"}}},
        {"mark": {"type": "tick", "color": "#000", "size": 23, "thickness": 2},
         "encoding": {"x": {"field": "treatment", "type": "nominal", "axis": null},
                      "y": {"field": "upper", "type": "quantitative", "axis": null}}},
        {"mark": {"type": "text", "font": "Liberation Sans", "fontSize": 17, "dy": -3, "baseline": "alphabetic", "color": "#000"},
         "encoding": {"x": {"field": "treatment", "type": "nominal", "axis": null},
                      "y": {"field": "upper", "type": "quantitative", "axis": null}, "text": {"field": "sig"}}}
      ]
    }
  ],
  "config": {"view": {"stroke": null}, "font": "DejaVu Sans"}
}
